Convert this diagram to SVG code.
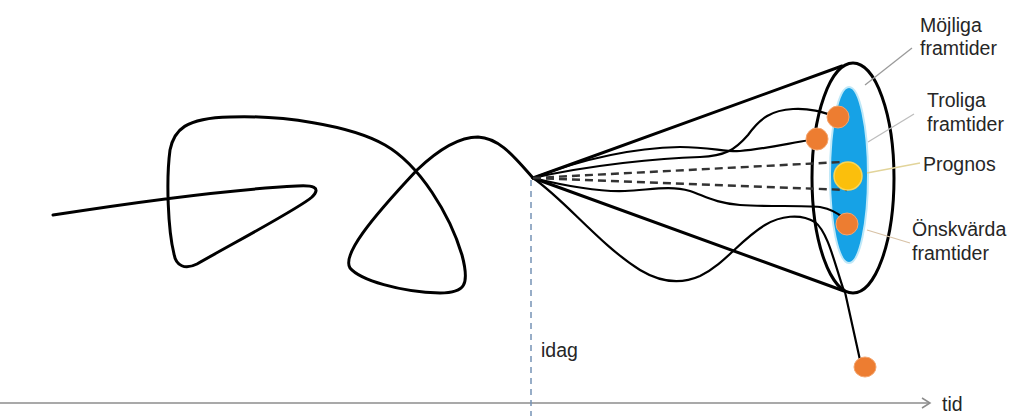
<svg xmlns="http://www.w3.org/2000/svg" width="1015" height="416" viewBox="0 0 1015 416">
<style>
.lbl{font-family:"Liberation Sans",Arial,sans-serif;font-size:19.5px;fill:#262626}
.thick{fill:none;stroke:#000;stroke-width:3;stroke-linecap:round;stroke-linejoin:round}
.thin{fill:none;stroke:#000;stroke-width:2.2;stroke-linecap:round}
.dash{fill:none;stroke:#333;stroke-width:2.4;stroke-dasharray:8 5}
.ptr{fill:none;stroke-width:1.3}
.dot{fill:#ed7d31;stroke:#f4a56e;stroke-width:1}
</style>
<defs>
<marker id="arr" markerWidth="12" markerHeight="12" refX="10" refY="6" orient="auto" markerUnits="userSpaceOnUse">
<path d="M2,1 L10,6 L2,11" fill="none" stroke="#8c8c8c" stroke-width="1.5"/>
</marker>
</defs>
<rect width="1015" height="416" fill="#fff"/>
<g id="axes">
<line x1="0" y1="403" x2="930" y2="403" stroke="#8c8c8c" stroke-width="1.5" marker-end="url(#arr)"/>
<line x1="531" y1="180" x2="531" y2="416" stroke="#7592b5" stroke-width="1.5" stroke-dasharray="6 5"/>
<text class="lbl" x="541" y="357">idag</text>
<text class="lbl" x="942" y="411">tid</text>
</g>
<g id="history">
<path class="thick" d="M53,215 C130,203 220,190 297,186 C312,185 322,187 312,197 C300,208 230,245 197,264 C185,270 176,266 174,254 C168,230 166,180 170,150 C174,130 185,118 230,117 C280,115 350,125 385,145 C420,165 450,215 462,255 C470,285 465,293 440,293 C400,292 360,280 350,268 C342,255 370,220 417,170 C440,148 460,137 478,137 C500,138 515,158 533,178"/>
</g>
<g id="cone">
<ellipse cx="853" cy="178" rx="41" ry="115" fill="#fff" class="thick"/>
<line class="thick" x1="533" y1="178" x2="842" y2="66"/>
<line class="thick" x1="533" y1="178" x2="844" y2="291"/>
</g>
<g id="troliga">
<ellipse cx="849" cy="175" rx="19" ry="88" fill="#16a2e6" stroke="#bfe8f8" stroke-width="2"/>
</g>
<g id="connectors">
<path class="thin" d="M533,178 C580,160 630,148 680,147 C710,147 725,152 740,151 C765,149 790,143 810,140"/>
<path class="thin" d="M533,178 C590,165 660,158 700,157 C725,156 735,150 748,135 C760,118 772,110 793,109 C810,108 822,112 834,116"/>
<path class="thin" d="M533,178 C570,187 600,192 625,191 C650,190 670,185 690,191 C705,196 715,203 740,205 C770,207 800,205 820,207 C830,209 838,213 843,218"/>
<path class="thin" d="M533,178 C565,200 600,245 640,270 C660,282 680,285 700,276 C725,264 740,240 765,225 C780,216 800,213 815,222 C828,232 835,265 844,291"/>
<path class="thin" d="M845,292 L860,360"/>
<path class="dash" d="M533,178 L842,162"/>
<path class="dash" d="M533,178 L847,190"/>
<path class="ptr" stroke="#9a9a9a" d="M912,48 L865,85"/>
<path class="ptr" stroke="#bdbdbd" d="M914,114 L868,142"/>
<path class="ptr" stroke="#e2d49a" d="M920,163 L867,173"/>
<path class="ptr" stroke="#d8c2a6" d="M910,243 L867,230"/>
</g>
<g id="prognos">
<circle cx="848" cy="176" r="14" fill="#fbbf0c" stroke="#f7d55a" stroke-width="1.5"/>
<text class="lbl" x="923" y="171">Prognos</text>
</g>
<g id="onskvarda">
<circle class="dot" cx="838" cy="117" r="11"/>
<circle class="dot" cx="817" cy="139" r="11"/>
<circle class="dot" cx="847" cy="224" r="11"/>
<ellipse class="dot" cx="865" cy="367" rx="11" ry="10"/>
<text class="lbl" x="912" y="236">Önskvärda</text>
<text class="lbl" x="912" y="260">framtider</text>
</g>
<g id="mojliga">
<text class="lbl" x="920" y="32">Möjliga</text>
<text class="lbl" x="920" y="55">framtider</text>
</g>
<g id="troliga-label">
<text class="lbl" x="927" y="107">Troliga</text>
<text class="lbl" x="927" y="131">framtider</text>
</g>
</svg>
